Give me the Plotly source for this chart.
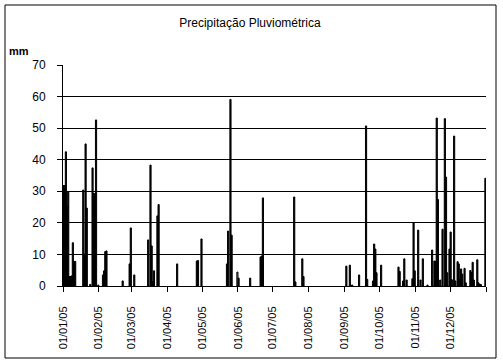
import pandas as pd
import plotly.graph_objects as go

# Daily precipitation (mm), 2005 - only days with rain are listed
dates = [
    "2005-01-01", "2005-01-02", "2005-01-03", "2005-01-04", "2005-01-05", "2005-01-06",
    "2005-01-07", "2005-01-08", "2005-01-09", "2005-01-10", "2005-01-11", "2005-01-18",
    "2005-01-19", "2005-01-20", "2005-01-21", "2005-01-24", "2005-01-26", "2005-01-27",
    "2005-01-28", "2005-01-29", "2005-01-31", "2005-02-04", "2005-02-05", "2005-02-06",
    "2005-02-07", "2005-02-21", "2005-02-27", "2005-02-28", "2005-03-03", "2005-03-15",
    "2005-03-17", "2005-03-18", "2005-03-19", "2005-03-20", "2005-03-23", "2005-03-24",
    "2005-04-09", "2005-04-26", "2005-04-27", "2005-04-30", "2005-05-22", "2005-05-23",
    "2005-05-25", "2005-05-26", "2005-05-31", "2005-06-01", "2005-06-11", "2005-06-20",
    "2005-06-21", "2005-06-22", "2005-07-19", "2005-07-20", "2005-07-26", "2005-07-27",
    "2005-09-02", "2005-09-05", "2005-09-07", "2005-09-13", "2005-09-19", "2005-09-20",
    "2005-09-25", "2005-09-26", "2005-09-27", "2005-09-28", "2005-10-02", "2005-10-17",
    "2005-10-18", "2005-10-21", "2005-10-22", "2005-10-24", "2005-10-29", "2005-10-30",
    "2005-10-31", "2005-11-03", "2005-11-05", "2005-11-07", "2005-11-11", "2005-11-15",
    "2005-11-17", "2005-11-18", "2005-11-19", "2005-11-20", "2005-11-22", "2005-11-24",
    "2005-11-26", "2005-11-27", "2005-11-28", "2005-11-30", "2005-12-01", "2005-12-02",
    "2005-12-04", "2005-12-05", "2005-12-07", "2005-12-08", "2005-12-09", "2005-12-10",
    "2005-12-11", "2005-12-13", "2005-12-14", "2005-12-18", "2005-12-19", "2005-12-20",
    "2005-12-21", "2005-12-24", "2005-12-25", "2005-12-26", "2005-12-27", "2005-12-31",
]
rain_mm = [
    31.8, 31.8, 42.5, 25.1, 29.9, 3.0,
    3.0, 3.2, 13.7, 7.7, 7.8, 30.4,
    10.1, 45.0, 24.7, 0.5, 37.4, 29.3,
    29.3, 52.6, 0.3, 3.5, 4.8, 10.9,
    11.1, 1.6, 7.0, 18.4, 3.5, 14.6,
    38.3, 12.7, 1.4, 4.8, 22.2, 25.8,
    7.0, 7.9, 8.1, 14.9, 7.0, 17.4,
    59.1, 16.1, 4.4, 2.5, 2.5, 9.2,
    9.5, 27.9, 28.2, 1.3, 8.6, 3.0,
    6.3, 6.6, 0.3, 3.5, 50.7, 2.1,
    1.6, 13.3, 11.7, 4.2, 6.6, 6.0,
    4.6, 1.6, 8.6, 1.9, 2.3, 20.0,
    4.8, 17.7, 1.9, 8.6, 0.3, 11.4,
    7.9, 7.8, 53.2, 27.4, 1.9, 18.0,
    53.0, 34.5, 4.2, 11.7, 17.1, 2.0,
    47.5, 1.6, 7.7, 7.0, 2.0, 5.4,
    3.8, 5.6, 1.0, 4.9, 4.3, 7.5,
    1.9, 8.3, 1.0, 0.5, 0.5, 34.1,
]
highlight_date = "2005-05-31"

month_ticks = [
    "2005-01-01", "2005-02-01", "2005-03-01", "2005-04-01", "2005-05-01", "2005-06-01",
    "2005-07-01", "2005-08-01", "2005-09-01", "2005-10-01", "2005-11-01", "2005-12-01",
    "2006-01-01",
]
month_labels = [
    "01/01/05", "01/02/05", "01/03/05", "01/04/05", "01/05/05", "01/06/05",
    "01/07/05", "01/08/05", "01/09/05", "01/10/05", "01/11/05", "01/12/05", "",
]

x_vals = pd.to_datetime(dates) + pd.Timedelta(hours=12)
colors = ["#9999FF" if d == highlight_date else "#000000" for d in dates]

fig = go.Figure(
    go.Bar(
        x=x_vals,
        y=rain_mm,
        width=86400000 * 1.0,
        marker=dict(color=colors, line=dict(color="#000000", width=1)),
    )
)

font_family = "Liberation Sans, Arial, sans-serif"

fig.update_layout(
    template="none",
    width=503,
    height=364,
    margin=dict(l=63, r=17, t=65, b=78, autoexpand=False),
    paper_bgcolor="white",
    plot_bgcolor="white",
    showlegend=False,
    font=dict(family=font_family, size=11, color="black"),
    title=dict(
        text="Precipitação Pluviométrica",
        font=dict(family=font_family, size=12, color="black"),
        xref="container", x=0.497, xanchor="center",
        yref="container", y=1 - 23 / 364, yanchor="middle",
    ),
    xaxis=dict(
        type="date",
        range=["2005-01-01", "2006-01-01"],
        tickvals=month_ticks,
        ticktext=month_labels,
        tickangle=-90,
        ticks="outside",
        ticklen=5,
        tickcolor="black",
        showline=True,
        linecolor="black",
        linewidth=1,
        showgrid=False,
        zeroline=False,
        automargin=False,
        tickfont=dict(size=11),
        ticklabelstandoff=10,
    ),
    yaxis=dict(
        range=[0, 70],
        dtick=10,
        ticks="outside",
        ticklen=5,
        tickcolor="black",
        showline=True,
        linecolor="black",
        linewidth=1,
        showgrid=True,
        gridcolor="black",
        gridwidth=1,
        zeroline=False,
        automargin=False,
        tickfont=dict(size=12),
        ticklabelstandoff=9,
    ),
    annotations=[
        dict(
            text="<b>mm</b>", xref="paper", yref="paper",
            x=(7 - 63) / 423, y=(286 - 51) / 221,
            xanchor="left", yanchor="middle", showarrow=False,
            font=dict(family=font_family, size=11, color="black"),
        )
    ],
    shapes=[
        dict(
            type="rect", xref="paper", yref="paper",
            x0=(5 - 63) / 423, x1=(496 - 63) / 423,
            y0=(286 - 358) / 221, y1=(286 - 5) / 221,
            line=dict(color="black", width=1), fillcolor="rgba(0,0,0,0)",
            layer="above",
        )
    ],
)

fig.write_html(
    "out.html",
    config={"displayModeBar": False},
    post_script="document.body.style.margin='0';",
)
